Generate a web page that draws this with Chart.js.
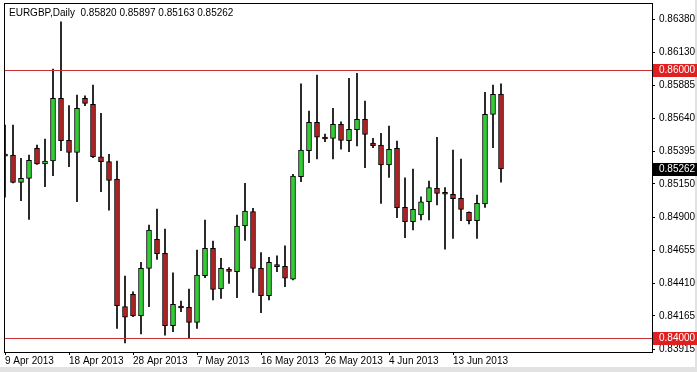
<!DOCTYPE html>
<html>
<head>
<meta charset="utf-8">
<script src="https://cdn.jsdelivr.net/npm/chart.js@4.4.0/dist/chart.umd.min.js"></script>
<style>
  html, body { margin: 0; padding: 0; background: #fff; }
  canvas { display: block; }
</style>
</head>
<body>
<canvas id="chart" width="697" height="372"></canvas>
<script>
const symbol = 'EURGBP,Daily';

// one bar per trading day (Sun-Fri)
const dates = [
  '9 Apr 2013', '10 Apr 2013', '11 Apr 2013', '12 Apr 2013', '14 Apr 2013', '15 Apr 2013', '16 Apr 2013', '17 Apr 2013',
  '18 Apr 2013', '19 Apr 2013', '21 Apr 2013', '22 Apr 2013', '23 Apr 2013', '24 Apr 2013', '25 Apr 2013', '26 Apr 2013',
  '28 Apr 2013', '29 Apr 2013', '30 Apr 2013', '1 May 2013', '2 May 2013', '3 May 2013', '5 May 2013', '6 May 2013',
  '7 May 2013', '8 May 2013', '9 May 2013', '10 May 2013', '12 May 2013', '13 May 2013', '14 May 2013', '15 May 2013',
  '16 May 2013', '17 May 2013', '19 May 2013', '20 May 2013', '21 May 2013', '22 May 2013', '23 May 2013', '24 May 2013',
  '26 May 2013', '27 May 2013', '28 May 2013', '29 May 2013', '30 May 2013', '31 May 2013', '2 Jun 2013', '3 Jun 2013',
  '4 Jun 2013', '5 Jun 2013', '6 Jun 2013', '7 Jun 2013', '9 Jun 2013', '10 Jun 2013', '11 Jun 2013', '12 Jun 2013',
  '13 Jun 2013', '14 Jun 2013', '16 Jun 2013', '17 Jun 2013', '18 Jun 2013', '19 Jun 2013', '20 Jun 2013'
];

const open = [
  0.85369, 0.85366, 0.85162, 0.85192, 0.85416, 0.85299, 0.85321, 0.85789, 0.85475, 0.85386,
  0.85789, 0.85744, 0.85353, 0.85316, 0.85187, 0.84234, 0.84326, 0.84166, 0.84520, 0.84737,
  0.84632, 0.84092, 0.84226, 0.84229, 0.84117, 0.84465, 0.84669, 0.84366, 0.84500, 0.84495,
  0.84836, 0.84943, 0.84520, 0.84316, 0.84535, 0.84535, 0.84440, 0.85204, 0.85398, 0.85610,
  0.85487, 0.85490, 0.85595, 0.85472, 0.85554, 0.85632, 0.85455, 0.85440, 0.85291, 0.85416,
  0.84975, 0.84868, 0.84918, 0.85017, 0.85117, 0.85075, 0.85072, 0.85043, 0.84938, 0.84875,
  0.85000, 0.85669, 0.85820
];
const high = [
  0.85590, 0.85590, 0.85341, 0.85366, 0.85440, 0.85485, 0.86007, 0.86360, 0.85734, 0.85813,
  0.85808, 0.85888, 0.85677, 0.85371, 0.85321, 0.84463, 0.84345, 0.84565, 0.84843, 0.84963,
  0.84813, 0.84487, 0.84276, 0.84366, 0.84657, 0.84881, 0.84724, 0.84595, 0.84525, 0.84918,
  0.85154, 0.84968, 0.84637, 0.84602, 0.84614, 0.84689, 0.85222, 0.85896, 0.85694, 0.85963,
  0.85522, 0.85714, 0.85614, 0.85938, 0.85975, 0.85769, 0.85490, 0.85528, 0.85582, 0.85470,
  0.85196, 0.85261, 0.85054, 0.85172, 0.85498, 0.85122, 0.85403, 0.85336, 0.84942, 0.85067,
  0.85834, 0.85888, 0.85897
];
const low = [
  0.85052, 0.85157, 0.85025, 0.84886, 0.85295, 0.85129, 0.85211, 0.85398, 0.85278, 0.85017,
  0.85734, 0.85346, 0.85092, 0.84955, 0.84072, 0.83963, 0.84159, 0.84030, 0.84234, 0.84587,
  0.84022, 0.84047, 0.84196, 0.83998, 0.84072, 0.84450, 0.84284, 0.84296, 0.84408, 0.84301,
  0.84729, 0.84341, 0.84189, 0.84284, 0.84495, 0.84383, 0.84433, 0.85166, 0.85308, 0.85336,
  0.85465, 0.85336, 0.85410, 0.85390, 0.85433, 0.85271, 0.85420, 0.85005, 0.85199, 0.84898,
  0.84749, 0.84806, 0.84881, 0.84881, 0.84993, 0.84664, 0.84744, 0.84875, 0.84851, 0.84744,
  0.84975, 0.85420, 0.85163
];
const close = [
  0.85358, 0.85162, 0.85192, 0.85326, 0.85299, 0.85321, 0.85789, 0.85472, 0.85386, 0.85714,
  0.85751, 0.85353, 0.85316, 0.85177, 0.84241, 0.84155, 0.84166, 0.84520, 0.84806, 0.84629,
  0.84092, 0.84251, 0.84224, 0.84117, 0.84470, 0.84669, 0.84363, 0.84520, 0.84498, 0.84836,
  0.84948, 0.84520, 0.84316, 0.84565, 0.84533, 0.84446, 0.85209, 0.85403, 0.85610, 0.85498,
  0.85485, 0.85595, 0.85475, 0.85557, 0.85632, 0.85520, 0.85435, 0.85291, 0.85408, 0.84972,
  0.84868, 0.84960, 0.85017, 0.85122, 0.85080, 0.85073, 0.85040, 0.84960, 0.84875, 0.85005,
  0.85669, 0.85819, 0.85262
];

const priceTicks = [0.86380, 0.86130, 0.85885, 0.85640, 0.85395, 0.85150, 0.84900, 0.84655, 0.84410, 0.84165, 0.83915];
const dateTickIdx = [0, 8, 16, 24, 32, 40, 48, 56];
const levels = [0.86, 0.84];

const FAMILY = '"Liberation Sans", Arial, sans-serif';
const UP = '#32cd32';
const DOWN = '#b22222';
const LEVEL = '#c83232';
const TAG = '#e02020';

const bodies = dates.map((d, i) => ({ x: i, y: [Math.min(open[i], close[i]), Math.max(open[i], close[i])] }));
const wicks = dates.map((d, i) => ({ x: i, y: [low[i], high[i]] }));
const fills = dates.map((d, i) => (close[i] >= open[i] ? UP : DOWN));

const last = dates.length - 1;

// no extra room for labels: the plot box is fixed like in the terminal
const noPad = (s) => {
  s.paddingTop = 0;
  s.paddingBottom = 0;
  s.paddingLeft = 0;
  s.paddingRight = 0;
};

// terminal look: frame, level lines, axis price tags and the header text
const terminal = {
  id: 'terminal',
  beforeDraw(chart) {
    const ctx = chart.ctx;
    ctx.save();
    ctx.fillStyle = '#fff';
    ctx.fillRect(0, 0, chart.width, chart.height);
    ctx.fillStyle = '#e2e2e2';
    ctx.fillRect(0, chart.height - 5, chart.width, 5);
    ctx.fillRect(chart.width - 2, 0, 2, chart.height);
    ctx.restore();
  },
  afterDatasetsDraw(chart) {
    const { ctx, chartArea: a } = chart;
    const y = chart.scales.y;
    ctx.save();
    ctx.strokeStyle = LEVEL;
    ctx.lineWidth = 1;
    levels.forEach((lv) => {
      const py = Math.round(y.getPixelForValue(lv)) + 0.5;
      ctx.beginPath();
      ctx.moveTo(a.left, py);
      ctx.lineTo(a.right, py);
      ctx.stroke();
    });
    ctx.restore();
  },
  afterDraw(chart) {
    const { ctx, chartArea: a } = chart;
    const y = chart.scales.y;
    ctx.save();
    ctx.strokeStyle = '#000';
    ctx.lineWidth = 1;
    ctx.strokeRect(a.left + 0.5, a.top + 0.5, a.right - a.left, a.bottom - a.top);

    ctx.font = '10px ' + FAMILY;
    ctx.textBaseline = 'middle';
    const tag = (value, bg) => {
      const py = Math.round(y.getPixelForValue(value));
      ctx.fillStyle = bg;
      ctx.fillRect(a.right + 1, py - 6, chart.width - a.right - 1, 13);
      ctx.fillStyle = '#fff';
      ctx.fillText(value.toFixed(5), a.right + 7, py + 0.5);
    };
    levels.forEach((lv) => tag(lv, TAG));
    tag(close[last], '#000');

    ctx.fillStyle = '#000';
    ctx.fillText(symbol + '  ' + [open[last], high[last], low[last], close[last]].map((v) => v.toFixed(5)).join(' '), 9, 13);
    ctx.restore();
  },
};

new Chart(document.getElementById('chart'), {
  type: 'bar',
  data: {
    datasets: [{
      data: bodies,
      backgroundColor: fills,
      borderColor: '#000',
      borderWidth: 1,
      borderSkipped: false,
      barThickness: 5,
      minBarLength: 2,
      grouped: false,
      order: 0,
    }, {
      data: wicks,
      backgroundColor: '#000',
      borderWidth: 0,
      barThickness: 1,
      grouped: false,
      order: 1,
    }],
  },
  options: {
    responsive: false,
    animation: false,
    events: [],
    layout: { autoPadding: false, padding: { left: 4, top: 3, right: 0, bottom: 0 } },
    plugins: {
      legend: { display: false },
      tooltip: { enabled: false },
    },
    scales: {
      x: {
        type: 'linear',
        min: -0.125,
        max: 80.875,
        bounds: 'data',
        offset: false,
        grid: { offset: false, drawOnChartArea: false, drawTicks: true, tickLength: 3, color: '#000' },
        border: { display: false },
        afterBuildTicks: (s) => { s.ticks = dateTickIdx.map((v) => ({ value: v })); },
        afterFit: (s) => { s.height = 20; noPad(s); },
        ticks: {
          align: 'start',
          padding: 0,
          maxRotation: 0,
          autoSkip: false,
          color: '#000',
          font: { family: FAMILY, size: 10 },
          callback: (v) => dates[v],
        },
      },
      y: {
        position: 'right',
        min: 0.83896,
        max: 0.86500,
        bounds: 'data',
        grid: { drawOnChartArea: false, drawTicks: true, tickLength: 3, color: '#000' },
        border: { display: false },
        afterBuildTicks: (s) => { s.ticks = priceTicks.map((v) => ({ value: v })); },
        afterFit: (s) => { s.width = 45; noPad(s); },
        ticks: {
          padding: 4,
          autoSkip: false,
          color: '#000',
          font: { family: FAMILY, size: 10 },
          callback: (v) => v.toFixed(5),
        },
      },
    },
  },
  plugins: [terminal],
});
</script>
</body>
</html>
